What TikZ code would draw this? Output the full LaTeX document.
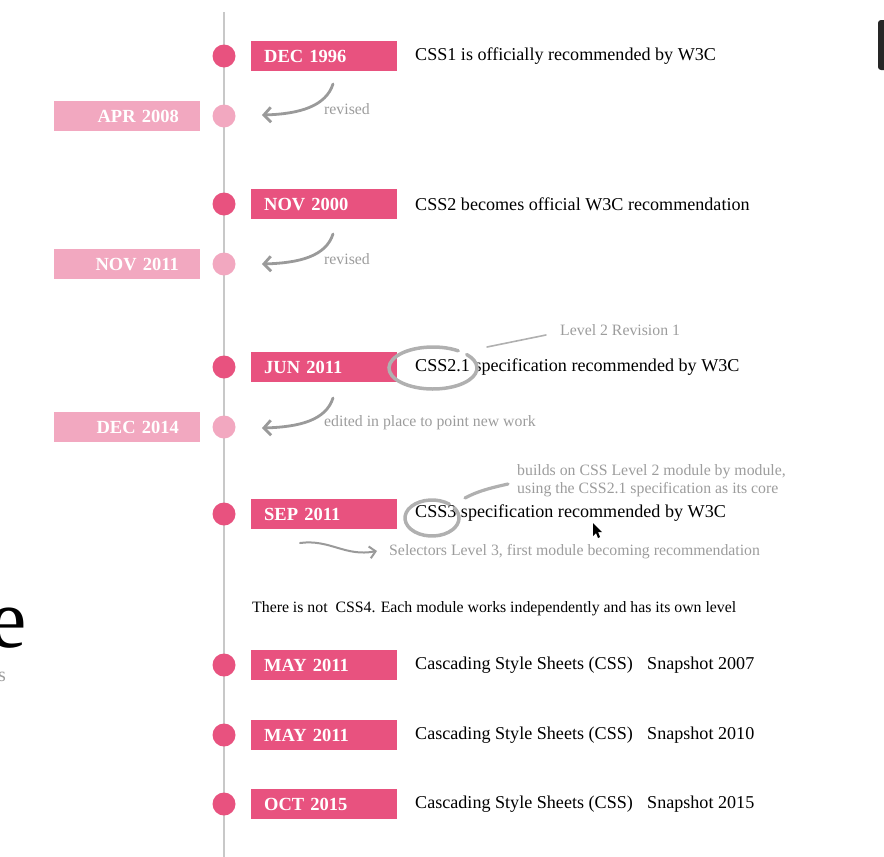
\documentclass[tikz,border=0pt]{standalone}
\usepackage{fontspec}
\setmainfont{Liberation Serif}
\usetikzlibrary{arrows.meta}
\definecolor{pinkd}{HTML}{E8527F}
\definecolor{pinkl}{HTML}{F2A8C0}
\definecolor{tl}{HTML}{C8C8C8}
\definecolor{ann}{HTML}{9C9C9C}
\definecolor{arr}{HTML}{9A9A9A}
\begin{document}
\begin{tikzpicture}[x=1pt,y=-1pt,
  dot/.style={circle,fill=pinkd,minimum size=23pt,inner sep=0pt},
  ldot/.style={circle,fill=pinkl,minimum size=23pt,inner sep=0pt},
  dbox/.style={fill=pinkd,anchor=west,minimum height=30pt,inner ysep=0pt,inner xsep=13pt,text width=120pt,align=left,text=white,font=\fontsize{18.5}{18.5}\selectfont\bfseries},
  lbox/.style={fill=pinkl,anchor=east,minimum height=30pt,inner ysep=0pt,inner xsep=21pt,text width=104pt,align=right,text=white,font=\fontsize{18.5}{18.5}\selectfont\bfseries},
  mtext/.style={anchor=west,inner sep=0pt,font=\fontsize{18.1}{18.1}\selectfont},
  atext/.style={anchor=west,inner sep=0pt,text=ann,font=\fontsize{15.8}{15.8}\selectfont},
  carrow/.style={draw=arr,line width=2.8pt,line cap=round,-{Straight Barb[length=7pt,width=15pt,line width=2.8pt]}},
  loop/.style={draw=ann!80,line width=3.5pt,line cap=round},
  tail/.style={draw=ann!80,line width=1.6pt,line cap=round}]
\useasboundingbox (0,0) rectangle (884,857);
\clip (0,0) rectangle (884,857);
% timeline
\coordinate (top) at (224,12);
\coordinate (bot) at (224,857);
\draw[tl,line width=2pt] (top) -- (bot);
% dots
\node[dot] (d1) at (224,56) {};
\node[ldot] (l1) at (224,116) {};
\node[dot] (d2) at (224,204) {};
\node[ldot] (l2) at (224,264) {};
\node[dot] (d3) at (224,367) {};
\node[ldot] (l3) at (224,427) {};
\node[dot] (d4) at (224,514) {};
\node[dot] (d5) at (224,665) {};
\node[dot] (d6) at (224,735) {};
\node[dot] (d7) at (224,804) {};
% dark boxes
\node[dbox] (b1) at (251,56) {DEC 1996};
\node[dbox] (b2) at (251,204) {NOV 2000};
\node[dbox] (b3) at (251,367) {JUN 2011};
\node[dbox] (b4) at (251,514) {SEP 2011};
\node[dbox] (b5) at (251,665) {MAY 2011};
\node[dbox] (b6) at (251,735) {MAY 2011};
\node[dbox] (b7) at (251,804) {OCT 2015};
% light boxes
\node[lbox] (lb1) at (200,116) {APR 2008};
\node[lbox] (lb2) at (200,264) {NOV 2011};
\node[lbox] (lb3) at (200,427) {DEC 2014};
% main texts
\node[mtext] (t1) at (415,56) {CSS1 is officially recommended by W3C};
\node[mtext] (t2) at (415,204) {CSS2 becomes official W3C recommendation};
\node[mtext] (t3) at (415,367) {CSS2.1 specification recommended by W3C};
\node[mtext] (t4) at (415,513) {CSS3 specification recommended by W3C};
\node[mtext] (t5) at (415,665) {Cascading Style Sheets (CSS)};
\node[mtext] (s5) at (647,665) {Snapshot 2007};
\node[mtext] (t6) at (415,735) {Cascading Style Sheets (CSS)};
\node[mtext] (s6) at (647,735) {Snapshot 2010};
\node[mtext] (t7) at (415,804) {Cascading Style Sheets (CSS)};
\node[mtext] (s7) at (647,804) {Snapshot 2015};
\node[anchor=west,inner sep=0pt,font=\fontsize{15.8}{15.8}\selectfont] (note) at (252,609) {There is not\ \ CSS4. Each module works independently and has its own level};
% annotations
\node[atext] (r1) at (324,109) {revised};
\node[atext] (r2) at (324,259) {revised};
\node[atext] (r3) at (324,423) {edited in place to point new work};
\node[atext] (lv) at (560,330) {Level 2 Revision 1};
\node[atext,align=left] (bd) at (517,481) {builds on CSS Level 2 module by module,\\[2pt]using the CSS2.1 specification as its core};
\node[atext] (sel) at (389,552) {Selectors Level 3, first module becoming recommendation};
% curved arrows
\coordinate (a1s) at (333,84);
\coordinate (a1e) at (262,115);
\coordinate (a2s) at (333,234);
\coordinate (a2e) at (262,264);
\coordinate (a3s) at (333,398);
\coordinate (a3e) at (262,428);
\draw[carrow] (a1s) .. controls (326,106) and (300,114) .. (a1e);
\draw[carrow] (a2s) .. controls (326,256) and (300,263) .. (a2e);
\draw[carrow] (a3s) .. controls (326,420) and (300,427) .. (a3e);
\coordinate (a4s) at (300,543);
\coordinate (a4e) at (377,551);
\draw[draw=arr,line width=2pt,line cap=round,-{Straight Barb[length=6pt,width=12pt,line width=2pt]}] (a4s) .. controls (330,539) and (345,557) .. (a4e);
% loops
\draw[loop] (433,368) ++(55:44pt and 21pt) arc[start angle=55,end angle=400,x radius=44pt,y radius=21pt];
\coordinate (tl1) at (487,347);
\coordinate (tl2) at (546,335);
\draw[tail] (tl1) -- (tl2);
\draw[loop] (432,518) ++(50:27pt and 18pt) arc[start angle=50,end angle=395,x radius=27pt,y radius=18pt];
\coordinate (tc1) at (465,498);
\coordinate (tc2) at (508,484);
\draw[draw=ann!80,line width=3.2pt,line cap=round] (tc1) .. controls (480,490) and (495,487) .. (tc2);
% cursor
\fill[black] (593,523) -- (593,536) -- (596,533) -- (598,538) -- (600,537) -- (598,532) -- (602,532) -- cycle;
% left partial text
\node[anchor=east,inner sep=0pt,font=\fontsize{84}{84}\selectfont] (bige) at (27,628) {e};
\node[anchor=east,inner sep=0pt,text=ann,font=\fontsize{20}{20}\selectfont] (smalls) at (6,677) {s};
% top-right dark element
\fill[black!85,rounded corners=3pt] (878,20) rectangle (895,70);
\end{tikzpicture}
\end{document}
